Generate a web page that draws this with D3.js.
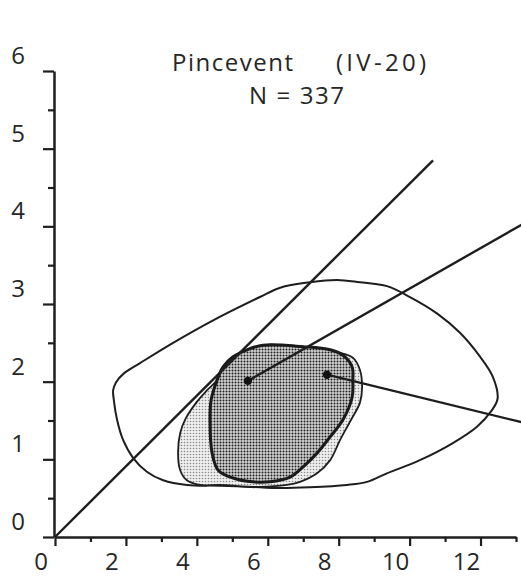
<!DOCTYPE html>
<html>
<head>
<meta charset="utf-8">
<script src="https://cdn.jsdelivr.net/npm/d3@7"></script>
<style>
  html, body { margin: 0; padding: 0; background: #fff; }
  svg { display: block; }
  text { font-family: "Open Sans", "DejaVu Sans", sans-serif; fill: #262626; }
</style>
</head>
<body>
<svg id="chart" width="521" height="578"></svg>
<script>
// ---- data (values in chart units) ----
const titleMain = "Pincevent";
const titleCode = "(IV-20)";
const titleN = "N = 337";

const xTickLabels = [0, 2, 4, 6, 8, 10, 12];
const yTickLabels = [0, 1, 2, 3, 4, 5, 6];

// outer contour (all points)
const outerContour = [
  [1.64, 1.89], [1.72, 1.99], [1.95, 2.11], [2.40, 2.24], [3.33, 2.50], [4.46, 2.79],
  [5.78, 3.09], [6.35, 3.21], [7.19, 3.28], [7.95, 3.31], [8.60, 3.28], [9.36, 3.23],
  [10.01, 3.09], [10.77, 2.88], [11.42, 2.63], [11.99, 2.32], [12.35, 2.06], [12.48, 1.78],
  [12.30, 1.62], [11.90, 1.42], [11.22, 1.21], [10.29, 0.99], [9.36, 0.82], [8.80, 0.71],
  [8.23, 0.67], [7.19, 0.64], [6.26, 0.63], [5.78, 0.64], [4.65, 0.66], [3.72, 0.67],
  [3.05, 0.73], [2.59, 0.84], [2.20, 1.02], [1.92, 1.25], [1.75, 1.51], [1.66, 1.76]
];

// middle contour (light shading)
const middleContour = [
  [4.57, 2.02], [4.74, 2.19], [5.02, 2.32], [5.41, 2.41], [5.87, 2.47], [6.99, 2.45],
  [7.95, 2.38], [8.40, 2.31], [8.60, 2.15], [8.66, 1.93], [8.60, 1.73], [8.35, 1.51],
  [8.04, 1.25], [7.76, 0.99], [7.39, 0.82], [6.91, 0.71], [6.54, 0.67], [5.78, 0.645],
  [4.65, 0.67], [4.09, 0.67], [3.72, 0.73], [3.53, 0.86], [3.47, 1.08], [3.53, 1.34],
  [3.69, 1.53], [4.00, 1.74], [4.29, 1.89]
];

// inner contour (dense shading)
const innerContour = [
  [4.57, 2.02], [4.74, 2.19], [5.02, 2.32], [5.41, 2.41], [5.87, 2.47], [6.99, 2.45],
  [7.76, 2.41], [8.12, 2.34], [8.38, 2.19], [8.40, 2.02], [8.38, 1.80], [8.12, 1.51],
  [7.76, 1.29], [7.39, 1.08], [6.99, 0.90], [6.63, 0.77], [6.06, 0.71], [5.58, 0.71],
  [5.02, 0.76], [4.60, 0.86], [4.43, 1.08], [4.37, 1.51], [4.40, 1.76]
];

// straight lines
const lineOrigin = [[0, 0], [10.66, 4.85]];
const lineUpper = [[5.44, 2.01], [13.5, 4.11]];
const lineLower = [[7.67, 2.09], [13.5, 1.44]];

// centres
const centres = [[5.44, 2.01], [7.67, 2.09]];

// ---- drawing ----
const svg = d3.select("#chart");
const x = d3.scaleLinear().domain([0, 13]).range([55, 516]);
const y = d3.scaleLinear().domain([0, 6]).range([537, 71]);

const defs = svg.append("defs");
const pLight = defs.append("pattern").attr("id", "light")
  .attr("patternUnits", "userSpaceOnUse").attr("width", 3).attr("height", 3);
pLight.append("rect").attr("width", 3).attr("height", 3).attr("fill", "#eeeeee");
pLight.append("circle").attr("cx", 1.5).attr("cy", 1.5).attr("r", 0.8).attr("fill", "#8a8a8a");

const pDark = defs.append("pattern").attr("id", "dark")
  .attr("patternUnits", "userSpaceOnUse").attr("width", 3).attr("height", 3);
pDark.append("rect").attr("width", 3).attr("height", 3).attr("fill", "#d2d2d2");
pDark.append("circle").attr("cx", 1.5).attr("cy", 1.5).attr("r", 1.0).attr("fill", "#1e1e1e");

svg.append("clipPath").attr("id", "clip").append("rect")
  .attr("x", 0).attr("y", 0).attr("width", 521).attr("height", 578);

const closed = d3.line().x(d => x(d[0])).y(d => y(d[1])).curve(d3.curveCatmullRomClosed.alpha(0.5));
const straight = d3.line().x(d => x(d[0])).y(d => y(d[1]));

const g = svg.append("g").attr("clip-path", "url(#clip)");

g.append("path").attr("d", closed(outerContour))
  .attr("fill", "none").attr("stroke", "#1e1e1e").attr("stroke-width", 2);

g.append("path").attr("d", closed(middleContour))
  .attr("fill", "url(#light)").attr("stroke", "#1e1e1e").attr("stroke-width", 1.8);

g.append("path").attr("d", closed(innerContour))
  .attr("fill", "url(#dark)").attr("stroke", "#1a1a1a").attr("stroke-width", 3);

[lineOrigin, lineUpper, lineLower].forEach(l => {
  g.append("path").attr("d", straight(l))
    .attr("fill", "none").attr("stroke", "#1e1e1e").attr("stroke-width", 2.4);
});

g.selectAll("circle.c").data(centres).enter().append("circle")
  .attr("class", "c")
  .attr("cx", d => x(d[0])).attr("cy", d => y(d[1])).attr("r", 4.2).attr("fill", "#111");

// axes
const yTicks = d3.range(0, 6.01, 0.5);
const xTicks = d3.range(0, 13.01, 1);

const yAxis = svg.append("g").attr("transform", `translate(${x(0) - 1},0)`)
  .call(d3.axisLeft(y).tickValues(yTicks).tickSizeOuter(0).tickFormat(""));
yAxis.selectAll(".tick line")
  .attr("x2", d => Number.isInteger(d) ? -11 : -6);

const xAxis = svg.append("g").attr("transform", `translate(0,${y(0)})`)
  .call(d3.axisBottom(x).tickValues(xTicks).tickSizeOuter(0).tickFormat(""));
xAxis.selectAll(".tick line")
  .attr("y2", d => d % 2 === 0 ? 9 : 5);

[yAxis, xAxis].forEach(a => {
  a.select(".domain").attr("stroke", "#1e1e1e").attr("stroke-width", 2.5);
  a.selectAll(".tick line").attr("stroke", "#1e1e1e").attr("stroke-width", 2.2);
});

// tick labels (offset from ticks as in the original)
svg.selectAll("text.xl").data(xTickLabels).enter().append("text")
  .attr("class", "xl")
  .attr("x", d => x(d) - 14).attr("y", 570)
  .attr("text-anchor", "middle").attr("font-size", 24)
  .text(d => d);

svg.selectAll("text.yl").data(yTickLabels).enter().append("text")
  .attr("class", "yl")
  .attr("x", 18).attr("y", d => y(d) - 7)
  .attr("text-anchor", "middle").attr("font-size", 24)
  .text(d => d);

// title
svg.append("text").attr("font-size", 24)
  .attr("x", 172).attr("y", 71)
  .attr("textLength", 121).attr("lengthAdjust", "spacing")
  .text(titleMain);
svg.append("text").attr("font-size", 24)
  .attr("x", 336).attr("y", 71)
  .attr("textLength", 90).attr("lengthAdjust", "spacing")
  .text(titleCode);
svg.append("text").attr("font-size", 24)
  .attr("x", 249).attr("y", 104)
  .attr("textLength", 95).attr("lengthAdjust", "spacing")
  .text(titleN);
</script>
</body>
</html>
